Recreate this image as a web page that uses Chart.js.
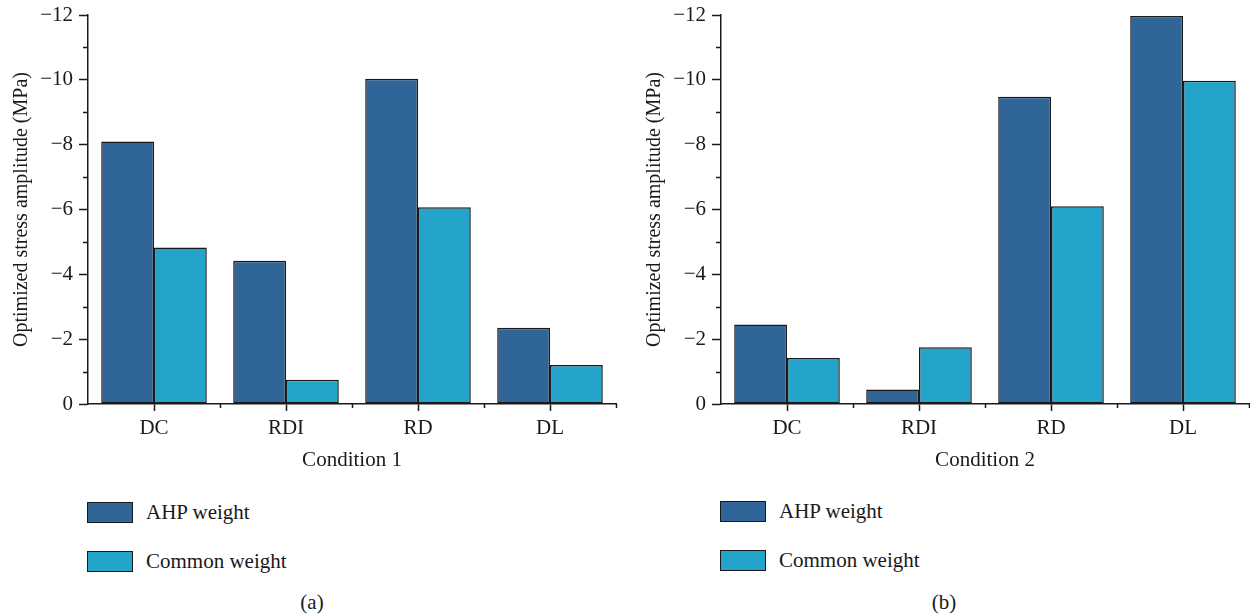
<!DOCTYPE html>
<html>
<head>
<meta charset="utf-8">
<script src="https://cdn.jsdelivr.net/npm/chart.js@4.4.1/dist/chart.umd.min.js"></script>
<style>
  body { margin: 0; background: #fff; width: 1250px; height: 616px; position: relative; overflow: hidden; font-family: "Liberation Serif", serif; color: #1a1a1a; }
  .panel { position: absolute; top: 0; width: 625px; height: 480px; }
  .legend { position: absolute; font-size: 21px; }
  .item { position: absolute; left: 0; height: 21px; white-space: nowrap; }
  .box { position: absolute; left: 0; top: 0; width: 44px; height: 19px; border: 1.5px solid #1a1a1a; }
  .item span { position: absolute; left: 59px; top: -1px; line-height: 23px; }
  .cap { position: absolute; top: 590px; font-size: 21px; width: 60px; text-align: center; line-height: 24px; }
</style>
</head>
<body>
<div class="panel" style="left:0"><canvas id="chartA" width="625" height="480"></canvas></div>
<div class="panel" style="left:633px"><canvas id="chartB" width="625" height="480"></canvas></div>

<div class="legend" style="left:87px; top:502px">
  <div class="item" style="top:0"><div class="box" style="background:#2f6597"></div><span>AHP weight</span></div>
  <div class="item" style="top:49px"><div class="box" style="background:#25a4cb"></div><span>Common weight</span></div>
</div>
<div class="legend" style="left:720px; top:501px">
  <div class="item" style="top:0"><div class="box" style="background:#2f6597"></div><span>AHP weight</span></div>
  <div class="item" style="top:49px"><div class="box" style="background:#25a4cb"></div><span>Common weight</span></div>
</div>
<div class="cap" style="left:282px">(a)</div>
<div class="cap" style="left:914px">(b)</div>

<script>
const categories = ['DC', 'RDI', 'RD', 'DL'];
const seriesNames = ['AHP weight', 'Common weight'];
const seriesColors = ['#2f6597', '#25a4cb'];

// condition 1 (MPa)
const ahp1 = [-8.1, -4.42, -10.03, -2.35];
const common1 = [-4.83, -0.75, -6.07, -1.2];
// condition 2 (MPa)
const ahp2 = [-2.45, -0.45, -9.48, -11.97];
const common2 = [-1.42, -1.75, -6.1, -9.97];

const yTicks = [0, -2, -4, -6, -8, -10, -12];
const yMinor = [-1, -3, -5, -7, -9, -11];

const serif = '"Liberation Serif", serif';
const ink = '#1a1a1a';

// short ticks: odd values on y, category edges on x
const minorTicks = {
    id: 'minorTicks',
    afterDraw(chart) {
        const ctx = chart.ctx;
        const ys = chart.scales.y;
        const xs = chart.scales.x;
        ctx.save();
        ctx.strokeStyle = ink;
        ctx.lineWidth = 1.5;
        ctx.beginPath();
        yMinor.forEach(v => {
            const py = Math.round(ys.getPixelForValue(v)) + 0.5;
            ctx.moveTo(ys.right - 5, py);
            ctx.lineTo(ys.right, py);
        });
        for (let i = 1; i <= categories.length; i++) {
            const px = Math.round(xs.getPixelForValue(i - 0.5)) + 0.5;
            ctx.moveTo(px, xs.top);
            ctx.lineTo(px, xs.top + 4);
        }
        ctx.stroke();
        ctx.restore();
    }
};

function makeChart(id, ahp, common, title) {
    return new Chart(document.getElementById(id), {
        type: 'bar',
        data: {
            labels: categories,
            datasets: [
                { label: seriesNames[0], data: ahp, backgroundColor: seriesColors[0] },
                { label: seriesNames[1], data: common, backgroundColor: seriesColors[1] }
            ]
        },
        options: {
            responsive: false,
            animation: false,
            layout: { padding: { top: 15, right: 9, bottom: 0, left: 0 } },
            datasets: {
                bar: {
                    borderColor: ink,
                    borderWidth: 1.5,
                    borderSkipped: false,
                    categoryPercentage: 0.8,
                    barPercentage: 1
                }
            },
            scales: {
                x: {
                    afterFit: s => { s.height = 76; s.paddingRight = 0; },
                    grid: {
                        offset: false,
                        drawOnChartArea: false,
                        drawTicks: true,
                        tickLength: 7,
                        tickWidth: 1.5,
                        tickColor: ink
                    },
                    border: { color: ink, width: 1.5 },
                    ticks: { color: ink, padding: 5, font: { family: serif, size: 21 } },
                    title: {
                        display: true,
                        text: title,
                        color: ink,
                        padding: { top: 0, bottom: 7 },
                        font: { family: serif, size: 21 }
                    }
                },
                y: {
                    min: -12,
                    max: 0,
                    reverse: true,
                    afterFit: s => { s.width = 88; s.paddingTop = 0; s.paddingBottom = 0; },
                    afterBuildTicks: s => { s.ticks = yTicks.map(v => ({ value: v })); },
                    grid: {
                        drawOnChartArea: false,
                        drawTicks: true,
                        tickLength: 9,
                        tickWidth: 1.5,
                        tickColor: ink
                    },
                    border: { color: ink, width: 1.5 },
                    ticks: {
                        color: ink,
                        padding: 6,
                        font: { family: serif, size: 21 },
                        callback: v => v === 0 ? '0' : '\u2212' + Math.abs(v)
                    },
                    title: {
                        display: true,
                        text: 'Optimized stress amplitude (MPa)',
                        color: ink,
                        padding: { top: 10, bottom: 0 },
                        font: { family: serif, size: 20 }
                    }
                }
            },
            plugins: {
                legend: { display: false },
                tooltip: { enabled: false }
            }
        },
        plugins: [minorTicks]
    });
}

makeChart('chartA', ahp1, common1, 'Condition 1');
makeChart('chartB', ahp2, common2, 'Condition 2');
</script>
</body>
</html>
